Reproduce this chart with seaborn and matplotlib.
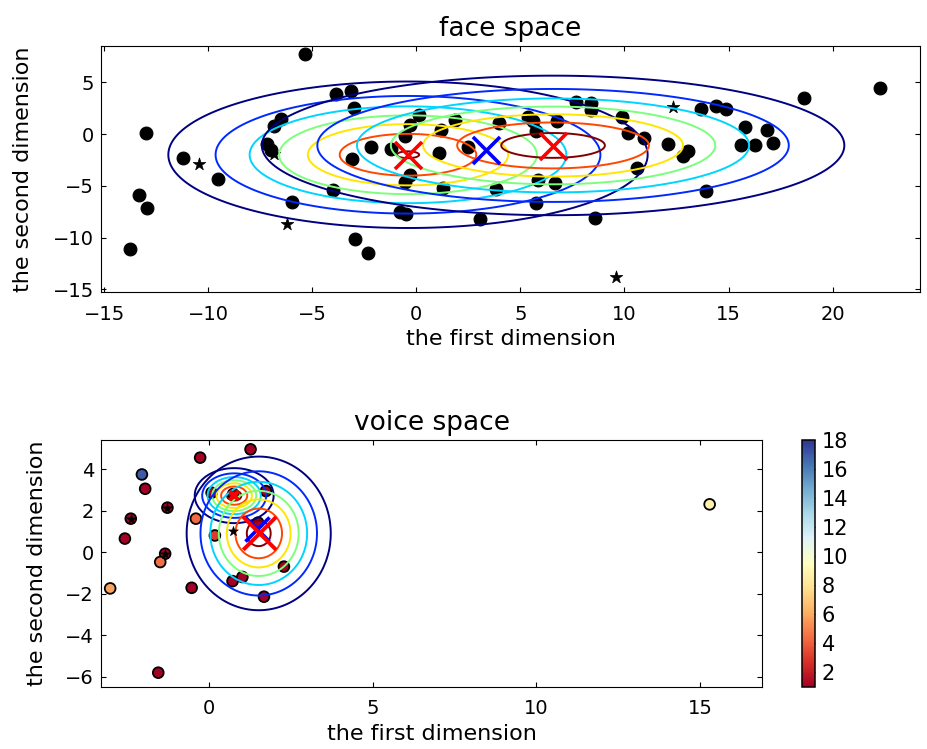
import numpy as np
import pandas as pd
import matplotlib
matplotlib.use("Agg")
import matplotlib.pyplot as plt
import seaborn as sns

# ---------------- face space data ----------------
face_x = [-5.37, -3.85, -3.13, -3.01, -13.01, -11.19, -9.54, -13.34, -12.95, -13.78,
          -6.49, -6.86, -7.18, -6.97, -5.96, -3.98, -2.97, -2.33, -2.16, -3.08,
          -1.20, -0.56, -0.32, 0.13, -0.32, -0.56, -0.80, -0.48, 1.09, 1.20,
          1.84, 1.28, 2.48, 3.08, 3.85, 3.97, 7.66, 8.37, 8.37, 5.37,
          5.61, 6.76, 5.74, 9.90, 10.17, 10.93, 12.10, 12.79, 13.06, 10.61,
          5.85, 6.65, 5.74, 8.57, 13.70, 14.42, 14.87, 15.78, 16.83, 15.58,
          16.26, 17.14, 13.94, 18.62, 22.27]
face_y = [7.72, 3.88, 4.16, 2.56, 0.10, -2.31, -4.33, -5.90, -7.18, -11.13,
          1.44, 0.80, -0.93, -1.50, -6.54, -5.36, -10.10, -11.50, -1.25, -2.38,
          -1.44, -0.23, 0.89, 1.86, -3.91, -4.65, -7.50, -7.76, -1.83, 0.35,
          1.38, -5.19, -1.25, -8.17, -5.29, 1.06, 3.13, 2.98, 2.34, 1.63,
          1.28, 1.28, 0.25, 1.69, 0.10, -0.38, -0.93, -2.09, -1.67, -3.27,
          -4.46, -4.71, -6.63, -8.08, 2.43, 2.75, 2.43, 0.67, 0.35, -1.03,
          -1.03, -0.87, -5.52, 3.46, 4.48]
face_star_x = [-10.45, -6.84, -6.22, 12.34, 9.58]
face_star_y = [-2.86, -1.95, -8.72, 2.65, -13.85]

# Gaussian components (diagonal) and the peak/level-step ratio of their contours
face_comp_mx = [-0.40, 6.57]
face_comp_my = [-2.00, -1.10]
face_comp_sx = [5.83, 6.98]
face_comp_sy = [3.58, 3.36]
face_comp_ratio = [7.03, 7.46]
face_red_x = [-0.40, 6.57]
face_red_y = [-2.00, -1.13]
face_blue_x = [3.37]
face_blue_y = [-1.50]

# ---------------- voice space data ----------------
voice_x = [1.27, -0.27, -2.05, -1.95, -1.27, -2.39, -2.57, -0.40, 0.18, -1.34,
           -1.49, -3.02, -0.53, -1.55, 0.72, 1.02, 1.68, 2.29, 1.50, 1.74,
           0.08, 0.74, 15.30]
voice_y = [4.95, 4.55, 3.74, 3.05, 2.14, 1.61, 0.65, 1.61, 0.80, -0.08,
           -0.48, -1.75, -1.72, -5.81, -1.40, -1.20, -2.15, -0.70, 1.42, 2.94,
           2.86, 2.80, 2.30]
voice_c = [1, 1, 17, 1, 1, 1, 1, 4.3, 3, 1,
           4.5, 5.8, 1, 1, 1, 1, 1, 1, 1, 1,
           1, 1, 8.8]
voice_star_x = [-1.27, -2.39, -1.34, 0.74]
voice_star_y = [2.14, 1.61, -0.08, 1.01]

voice_comp_mx = [0.77, 1.52]
voice_comp_my = [2.72, 0.90]
voice_comp_sx = [0.60, 1.10]
voice_comp_sy = [0.66, 1.85]
voice_comp_ratio = [7.5, 7.4]
voice_red_x = [1.55, 0.77]
voice_red_y = [0.90, 2.72]
voice_red_s = [560, 40]
voice_blue_x = [1.48]
voice_blue_y = [1.10]

cbar_ticks = [2, 4, 6, 8, 10, 12, 14, 16, 18]

# ---------------- style ----------------
sns.set_style("ticks", rc={
    "xtick.direction": "in", "ytick.direction": "in",
    "xtick.top": True, "ytick.right": True,
    "axes.edgecolor": "black", "axes.linewidth": 1.1,
    "xtick.color": "black", "ytick.color": "black",
    "text.color": "black", "axes.labelcolor": "black",
    "xtick.major.size": 5, "ytick.major.size": 5,
})
plt.rcParams["font.family"] = ["DejaVu Sans"]
plt.rcParams["axes.unicode_minus"] = True

fig = plt.figure(figsize=(9.27, 7.49), dpi=100)
ax1 = fig.add_axes([101 / 927, 1 - 292 / 749, (920 - 101) / 927, (292 - 46) / 749])
ax2 = fig.add_axes([101 / 927, 1 - 687 / 749, (762 - 101) / 927, (687 - 440) / 749])
cax = fig.add_axes([802 / 927, 1 - 687 / 749, 13 / 927, (687 - 440) / 749])


def draw_components(ax, mx, my, sx, sy, ratio, xlim, ylim, n=300):
    gx = np.linspace(xlim[0], xlim[1], n)
    gy = np.linspace(ylim[0], ylim[1], n)
    X, Y = np.meshgrid(gx, gy)
    for m1, m2, s1, s2, r in zip(mx, my, sx, sy, ratio):
        Z = np.exp(-0.5 * (((X - m1) / s1) ** 2 + ((Y - m2) / s2) ** 2)) / (2 * np.pi * s1 * s2)
        peak = 1.0 / (2 * np.pi * s1 * s2)
        step = peak / r
        levels = step * np.arange(1, 8)
        ax.contour(X, Y, Z, levels=levels, cmap="jet", linewidths=1.4)


# ---------------- face space ----------------
face_df = pd.DataFrame({"x": face_x, "y": face_y})
sns.scatterplot(data=face_df, x="x", y="y", ax=ax1, color="black", s=85,
                edgecolor="black", linewidth=0.8, zorder=2)
star_df = pd.DataFrame({"x": face_star_x, "y": face_star_y})
sns.scatterplot(data=star_df, x="x", y="y", ax=ax1, color="black", marker="*",
                s=90, edgecolor="black", linewidth=0.5, zorder=2)
f_xlim = (-15.15, 24.2)
f_ylim = (-15.25, 8.5)
draw_components(ax1, face_comp_mx, face_comp_my, face_comp_sx, face_comp_sy,
                face_comp_ratio, f_xlim, f_ylim)
ax1.scatter(face_red_x, face_red_y, marker="x", s=380, color="red", linewidths=2.6, zorder=5)
ax1.scatter(face_blue_x, face_blue_y, marker="x", s=380, color="blue", linewidths=2.6, zorder=5)
ax1.set_xlim(*f_xlim)
ax1.set_ylim(*f_ylim)
ax1.set_xticks([-15, -10, -5, 0, 5, 10, 15, 20])
ax1.set_yticks([-15, -10, -5, 0, 5])
ax1.set_title("face space", fontsize=19, pad=7)
ax1.set_xlabel("the first dimension", fontsize=16, labelpad=4)
ax1.set_ylabel("the second dimension", fontsize=16, labelpad=14)
ax1.tick_params(labelsize=14)
ax1.tick_params(axis="x", pad=9)
ax1.tick_params(axis="y", pad=5)

# ---------------- voice space ----------------
voice_df = pd.DataFrame({"x": voice_x, "y": voice_y, "c": voice_c})
sns.scatterplot(data=voice_df, x="x", y="y", hue="c", palette="RdYlBu",
                hue_norm=(1, 18), ax=ax2, s=60, edgecolor="black", linewidth=1.3,
                legend=False, zorder=2)
vstar_df = pd.DataFrame({"x": voice_star_x, "y": voice_star_y})
sns.scatterplot(data=vstar_df, x="x", y="y", ax=ax2, color="black", marker="*",
                s=55, edgecolor="black", linewidth=0.4, zorder=3)
v_xlim = (-3.3, 16.9)
v_ylim = (-6.5, 5.4)
draw_components(ax2, voice_comp_mx, voice_comp_my, voice_comp_sx, voice_comp_sy,
                voice_comp_ratio, v_xlim, v_ylim, n=220)
ax2.scatter(voice_blue_x, voice_blue_y, marker="x", s=300, color="blue", linewidths=2.6, zorder=5)
ax2.scatter(voice_red_x, voice_red_y, marker="x", s=voice_red_s, color="red", linewidths=2.8, zorder=6)
ax2.set_xlim(*v_xlim)
ax2.set_ylim(*v_ylim)
ax2.set_xticks([0, 5, 10, 15])
ax2.set_yticks([-6, -4, -2, 0, 2, 4])
ax2.set_title("voice space", fontsize=19, pad=7)
ax2.set_xlabel("the first dimension", fontsize=16, labelpad=4)
ax2.set_ylabel("the second dimension", fontsize=16, labelpad=13)
ax2.tick_params(labelsize=14)
ax2.tick_params(axis="x", pad=9)
ax2.tick_params(axis="y", pad=5)

sm = matplotlib.cm.ScalarMappable(cmap="RdYlBu", norm=matplotlib.colors.Normalize(1, 18))
cb = fig.colorbar(sm, cax=cax, ticks=cbar_ticks)
cb.ax.tick_params(labelsize=15, direction="in", length=5, right=True, color="black", pad=5)
cb.outline.set_linewidth(1.1)

fig.savefig("out.png", dpi=100)
